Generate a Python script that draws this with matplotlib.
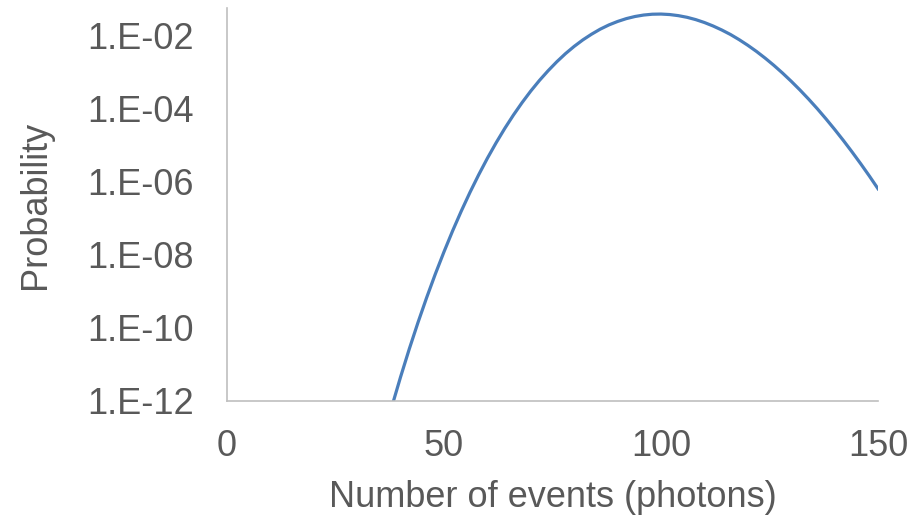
import matplotlib
matplotlib.use('Agg')
import matplotlib.pyplot as plt

# number of photons and probability
events = list(range(36, 151, 2))
prob = [1.00e-13, 7.11e-13, 4.56e-12, 2.65e-11, 1.40e-10, 6.76e-10, 3.00e-9,
        1.22e-8, 4.61e-8, 1.61e-7, 5.23e-7, 1.58e-6, 4.47e-6, 1.18e-5,
        2.93e-5, 6.83e-5, 1.50e-4, 3.11e-4, 6.07e-4, 1.12e-3, 1.97e-3,
        3.29e-3, 5.20e-3, 7.83e-3, 1.12e-2, 1.54e-2, 2.01e-2, 2.50e-2,
        2.99e-2, 3.42e-2, 3.75e-2, 3.95e-2, 3.99e-2, 3.87e-2, 3.61e-2,
        3.25e-2, 2.81e-2, 2.34e-2, 1.88e-2, 1.46e-2, 1.10e-2, 7.94e-3,
        5.56e-3, 3.77e-3, 2.47e-3, 1.57e-3, 9.65e-4, 5.75e-4, 3.33e-4,
        1.87e-4, 1.02e-4, 5.38e-5, 2.76e-5, 1.38e-5, 6.70e-6, 3.17e-6,
        1.46e-6, 6.51e-7]
xticks = [0, 50, 100, 150]
yticks = [1e-12, 1e-10, 1e-8, 1e-6, 1e-4, 1e-2]
ylabels = ['1.E-12', '1.E-10', '1.E-08', '1.E-06', '1.E-04', '1.E-02']

plt.rcParams['font.family'] = ['Liberation Sans', 'DejaVu Sans']
grey = '#595959'

fig = plt.figure(figsize=(9.17, 5.16), dpi=100)
ax = fig.add_axes([0.2475, 0.2229, 0.71, 0.7616])
ax.plot(events, prob, color='#4a7ebb', lw=2.3)
ax.set_yscale('log')
ax.set_xlim(0, 150)
ax.set_ylim(1e-12, 10 ** -1.233)
ax.set_xticks(xticks)
ax.set_yticks(yticks)
ax.set_yticklabels(ylabels)
ax.minorticks_off()
ax.tick_params(axis='both', length=0, labelsize=26, labelcolor=grey)
ax.tick_params(axis='x', pad=20)
ax.tick_params(axis='y', pad=24)
for s in ['top', 'right']:
    ax.spines[s].set_visible(False)
for s in ['left', 'bottom']:
    ax.spines[s].set_color('#bfbfbf')
    ax.spines[s].set_linewidth(1.2)
ax.set_xlabel('Number of events (photons)', fontsize=26, color=grey, labelpad=12)
ax.set_ylabel('Probability', fontsize=26, color=grey)
ax.yaxis.set_label_coords(-0.267, 0.5)

plt.savefig('out.png', dpi=100)
